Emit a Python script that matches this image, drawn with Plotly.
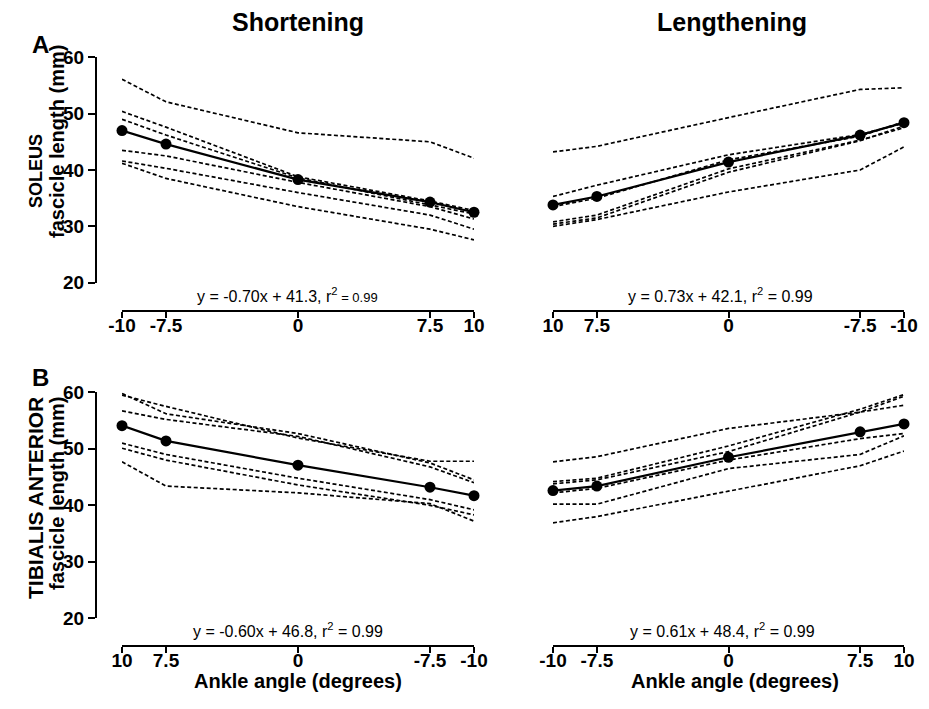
import plotly.graph_objects as go

# Page body has an 8px default margin, so the figure is drawn 8px smaller
# and all reference pixel positions are shifted by that offset.
OFF = 8
W, H = 929 - OFF, 709 - OFF

angles = [-10, -7.5, 0, 7.5, 10]
tick_vals = [-10, -7.5, 0, 7.5, 10]
tick_text = ["-10", "-7.5", "0", "7.5", "10"]
y_ticks = [20, 30, 40, 50, 60]

# Panel A: Soleus, shortening (x: -10 -> 10)
sol_short_subjects = [
    [56.1, 52.1, 46.6, 45.0, 42.1],
    [50.4, 47.6, 38.8, 34.5, 32.8],
    [49.0, 46.2, 38.6, 33.8, 32.2],
    [43.5, 42.5, 37.8, 33.5, 31.3],
    [41.6, 40.3, 36.0, 32.0, 29.5],
    [41.2, 38.5, 33.5, 29.5, 27.6],
]
sol_short_mean = [47.0, 44.6, 38.3, 34.3, 32.5]

# Panel A: Soleus, lengthening (values at angles 10, 7.5, 0, -7.5, -10)
sol_len_angles = [10, 7.5, 0, -7.5, -10]
sol_len_subjects = [
    [43.2, 44.2, 49.3, 54.3, 54.6],
    [35.3, 37.3, 42.7, 46.3, 48.3],
    [33.5, 35.0, 41.8, 46.0, 48.6],
    [30.8, 32.0, 40.2, 45.3, 47.5],
    [30.4, 31.5, 39.6, 45.2, 47.8],
    [30.0, 31.2, 36.1, 40.0, 44.1],
]
sol_len_mean = [33.8, 35.3, 41.4, 46.2, 48.4]

# Panel B: Tibialis anterior, shortening (angles 10, 7.5, 0, -7.5, -10)
ta_short_angles = [10, 7.5, 0, -7.5, -10]
ta_short_subjects = [
    [59.8, 56.2, 52.7, 47.5, 44.5],
    [59.5, 57.5, 51.9, 47.8, 47.8],
    [56.7, 55.2, 52.2, 46.8, 44.0],
    [51.0, 49.0, 44.8, 41.0, 39.2],
    [50.1, 48.0, 43.6, 40.0, 38.3],
    [47.7, 43.4, 42.2, 40.3, 37.2],
]
ta_short_mean = [54.1, 51.4, 47.1, 43.2, 41.7]

# Panel B: Tibialis anterior, lengthening (angles -10 -> 10)
ta_len_angles = [-10, -7.5, 0, 7.5, 10]
ta_len_subjects = [
    [47.7, 48.6, 53.6, 56.5, 57.7],
    [44.2, 44.8, 50.5, 57.0, 59.6],
    [43.8, 44.5, 49.5, 56.5, 59.3],
    [42.2, 43.0, 48.0, 51.8, 52.7],
    [40.2, 40.2, 46.5, 49.0, 52.3],
    [36.9, 38.0, 42.5, 47.0, 49.6],
]
ta_len_mean = [42.6, 43.4, 48.5, 53.0, 54.4]

equations = [
    "y = -0.70x + 41.3, r<sup>2</sup><span style='font-size:13px'> = 0.99</span>",
    "y = 0.73x + 42.1, r<sup>2</sup> = 0.99",
    "y = -0.60x + 46.8, r<sup>2</sup> = 0.99",
    "y = 0.61x + 48.4, r<sup>2</sup> = 0.99",
]

FONT = "Liberation Sans, Arial, sans-serif"


def px(x):
    return (x - OFF) / W


def py(y):
    return 1 - (y - OFF) / H


fig = go.Figure()

panels = [
    ("x", "y", angles, sol_short_subjects, sol_short_mean),
    ("x2", "y2", sol_len_angles, sol_len_subjects, sol_len_mean),
    ("x3", "y3", ta_short_angles, ta_short_subjects, ta_short_mean),
    ("x4", "y4", ta_len_angles, ta_len_subjects, ta_len_mean),
]

for xa, ya, xs, subjects, mean in panels:
    for s in subjects:
        fig.add_trace(go.Scatter(
            x=xs, y=s, xaxis=xa, yaxis=ya, mode="lines",
            line=dict(color="black", width=1.7, dash="4px,2.5px"),
            showlegend=False, hoverinfo="skip", cliponaxis=False))
    fig.add_trace(go.Scatter(
        x=xs, y=mean, xaxis=xa, yaxis=ya, mode="lines+markers",
        line=dict(color="black", width=2.2),
        marker=dict(color="black", size=11),
        showlegend=False, cliponaxis=False))

top_y = (py(282.7), py(57.3))
bot_y = (py(618.3), py(392.3))
left_x = (px(122), px(474))
right_x = (px(553), px(904))

xcommon = dict(
    anchor="free", tickmode="array", tickvals=tick_vals, ticktext=tick_text,
    showline=True, linecolor="black", linewidth=2, ticks="outside",
    ticklen=6, tickwidth=2, tickcolor="black", showgrid=False, zeroline=False,
    automargin=False, ticklabelstandoff=-9,
    tickfont=dict(family=FONT, size=19, color="black", weight="bold"),
)
ycommon = dict(
    range=[20, 60], tickmode="array", tickvals=y_ticks,
    showline=True, linecolor="black", linewidth=2, ticks="outside",
    ticklen=7, tickwidth=2, tickcolor="black", showgrid=False, zeroline=False,
    automargin=False,
    tickfont=dict(family=FONT, size=19, color="black", weight="bold"),
)

fig.update_layout(
    template="none",
    width=W, height=H,
    margin=dict(l=0, r=0, t=0, b=0, pad=0, autoexpand=False),
    paper_bgcolor="white", plot_bgcolor="white",
    showlegend=False,
    xaxis=dict(domain=left_x, range=[-10, 10], position=py(311), **xcommon),
    xaxis2=dict(domain=right_x, range=[10, -10], position=py(311), **xcommon),
    xaxis3=dict(domain=left_x, range=[10, -10], position=py(646), **xcommon),
    xaxis4=dict(domain=right_x, range=[-10, 10], position=py(646), **xcommon),
    yaxis=dict(domain=top_y, anchor="free", position=px(96), **ycommon),
    yaxis2=dict(domain=top_y, range=[20, 60], visible=False, automargin=False),
    yaxis3=dict(domain=bot_y, anchor="free", position=px(96), **ycommon),
    yaxis4=dict(domain=bot_y, range=[20, 60], visible=False, automargin=False),
)

ann = []


def text(x, y, t, size, bold=True, angle=0):
    ann.append(dict(
        x=px(x), y=py(y), xref="paper", yref="paper", text=t, showarrow=False,
        xanchor="center", yanchor="middle", textangle=angle,
        font=dict(family=FONT, size=size, color="black",
                  weight="bold" if bold else "normal")))


text(298, 22, "Shortening", 25)
text(732, 22, "Lengthening", 25)
text(40, 45, "A", 24)
text(40, 378, "B", 24)
text(36, 171, "SOLEUS", 18, angle=-90)
text(57, 142, "fascicle length (mm)", 20, angle=-90)
text(36, 498, "TIBIALIS ANTERIOR", 21, angle=-90)
text(57, 494, "fascicle length (mm)", 20, angle=-90)
text(287, 295, equations[0], 16, bold=False)
text(720, 295, equations[1], 16, bold=False)
text(288, 630, equations[2], 16, bold=False)
text(722, 630, equations[3], 16, bold=False)
text(298, 681, "Ankle angle (degrees)", 20)
text(735, 681, "Ankle angle (degrees)", 20)

fig.update_layout(annotations=ann)

fig.write_html("out.html")
